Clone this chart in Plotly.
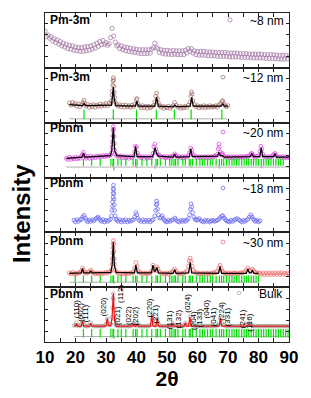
import plotly.graph_objects as go
from plotly.subplots import make_subplots

FONT = "Arial, 'Liberation Sans', sans-serif"

# ---------------- data ----------------
X_TICK_VALUES = [10, 15, 20, 25, 30, 35, 40, 45, 50, 55, 60, 65, 70, 75, 80, 85, 90]
X_TICK_LABELS = ["10", "", "20", "", "30", "", "40", "", "50", "", "60", "", "70", "", "80", "", "90"]

PANEL_NAMES = ["~8 nm", "~12 nm", "~20 nm", "~18 nm", "~30 nm", "Bulk"]
PANEL_PHASES = ["Pm-3m", "Pm-3m", "Pbnm", "Pbnm", "Pbnm", "Pbnm"]

# ~8 nm (Pm-3m), observed only
TTH_8NM = [10.0, 10.5, 11.0, 11.5, 12.0, 12.5, 13.0, 13.5, 14.0, 14.5, 15.0, 15.5, 16.0, 16.5, 17.0, 17.5,
           18.0, 18.5, 19.0, 19.5, 20.0, 20.5, 21.0, 21.5, 22.0, 22.5, 23.0, 23.5, 24.0, 24.5, 25.0, 25.5,
           26.0, 26.5, 27.0, 27.5, 28.0, 28.5, 29.0, 29.5, 30.0, 30.5, 31.0, 31.5, 32.0, 32.5, 33.0, 33.5,
           34.0, 34.5, 35.0, 35.5, 36.0, 36.5, 37.0, 37.5, 38.0, 38.5, 39.0, 39.5, 40.0, 40.5, 41.0, 41.5,
           42.0, 42.5, 43.0, 43.5, 44.0, 44.5, 45.0, 45.5, 46.0, 46.5, 47.0, 47.5, 48.0, 48.5, 49.0, 49.5,
           50.0, 50.5, 51.0, 51.5, 52.0, 52.5, 53.0, 53.5, 54.0, 54.5, 55.0, 55.5, 56.0, 56.5, 57.0, 57.5,
           58.0, 58.5, 59.0, 59.5, 60.0, 60.5, 61.0, 61.5, 62.0, 62.5, 63.0, 63.5, 64.0, 64.5, 65.0, 65.5,
           66.0, 66.5, 67.0, 67.5, 68.0, 68.5, 69.0, 69.5, 70.0, 70.5, 71.0, 71.5, 72.0, 72.5, 73.0, 73.5,
           74.0, 74.5, 75.0, 75.5, 76.0, 76.5, 77.0, 77.5, 78.0, 78.5, 79.0, 79.5, 80.0, 80.5, 81.0, 81.5,
           82.0, 82.5, 83.0, 83.5, 84.0, 84.5, 85.0, 85.5, 86.0, 86.5, 87.0, 87.5, 88.0, 88.5, 89.0, 89.5,
           90.0]
OBS_8NM = [67, 57, 60, 54, 57, 49, 53, 46, 51, 43, 48, 40, 45, 38, 43, 35,
           41, 34, 40, 32, 38, 31, 37, 30, 37, 30, 38, 31, 39, 32, 40, 34,
           42, 36, 45, 39, 48, 42, 50, 43, 46, 41, 44, 55, 72, 58, 47, 40,
           42, 35, 40, 33, 38, 31, 37, 30, 36, 29, 35, 28, 34, 27, 33, 26,
           33, 26, 33, 26, 33, 27, 34, 37, 45, 37, 35, 28, 33, 26, 32, 25,
           32, 25, 31, 24, 32, 25, 31, 24, 31, 24, 31, 24, 32, 27, 35, 30,
           35, 27, 31, 24, 30, 23, 30, 23, 30, 23, 29, 22, 29, 22, 29, 22,
           28, 21, 28, 21, 28, 21, 28, 21, 27, 20, 27, 20, 27, 20, 27, 20,
           26, 19, 26, 19, 26, 19, 25, 18, 25, 18, 25, 18, 25, 18, 25, 18,
           24, 17, 24, 17, 24, 17, 24, 17, 23, 16, 23, 16, 23, 16, 23, 16,
           21]

# ~12 nm (Pm-3m): (2theta, intensity)
OBS_12NM = [(18.0, 36), (18.5, 32), (19.0, 37), (19.5, 33), (20.0, 35), (20.5, 30), (21.0, 34), (21.5, 29),
            (22.0, 33), (22.5, 37), (22.8, 41), (23.0, 35), (23.5, 30), (24.0, 33), (24.5, 28), (25.0, 32),
            (25.5, 29), (26.0, 33), (26.5, 28), (27.0, 32), (27.5, 30), (28.0, 34), (28.5, 30), (29.0, 33),
            (29.5, 31), (30.0, 35), (30.5, 31), (31.0, 36), (31.5, 34), (31.8, 40), (32.0, 50), (32.1, 58),
            (32.2, 68), (32.3, 76), (32.4, 82), (32.5, 78), (32.6, 66), (32.7, 55), (32.8, 46), (33.0, 38),
            (33.5, 33), (34.0, 30), (34.5, 33), (35.0, 29), (35.5, 32), (36.0, 28), (36.5, 32), (37.0, 29),
            (37.5, 31), (38.0, 28), (38.5, 32), (39.0, 29), (39.5, 34), (40.0, 42), (40.2, 44), (40.5, 35),
            (41.0, 30), (41.5, 27), (42.0, 31), (42.5, 27), (43.0, 30), (43.5, 26), (44.0, 30), (44.5, 27),
            (45.0, 29), (45.5, 31), (46.0, 38), (46.3, 48), (46.6, 54), (46.9, 44), (47.2, 36), (47.5, 31),
            (48.0, 28), (48.5, 30), (49.0, 26), (49.5, 29), (50.0, 27), (50.5, 30), (51.0, 26), (51.5, 29),
            (52.0, 31), (52.5, 37), (53.0, 32), (53.5, 28), (54.0, 30), (54.5, 26), (55.0, 29), (55.5, 27),
            (56.0, 30), (56.5, 28), (57.0, 32), (57.5, 38), (57.8, 48), (58.0, 56), (58.2, 52), (58.5, 40),
            (59.0, 33), (59.5, 29), (60.0, 31), (60.5, 27), (61.0, 30), (61.5, 28), (62.0, 31), (62.5, 27),
            (63.0, 30), (63.5, 28), (64.0, 31), (64.5, 28), (65.0, 30), (65.5, 29), (66.0, 31), (66.5, 28),
            (67.0, 32), (67.5, 35), (68.0, 39), (68.3, 40), (68.6, 35), (69.0, 31), (69.5, 29), (70.0, 31)]
CALC_12NM = [(18, 33), (22.3, 31), (22.8, 35), (23.3, 31), (31.8, 32), (32.1, 45), (32.4, 65), (32.7, 44),
             (33.2, 31), (39.6, 30), (40.1, 39), (40.6, 30), (46.0, 30), (46.6, 46), (47.2, 30), (52.1, 29),
             (52.6, 32), (53.1, 29), (57.6, 30), (58.1, 46), (58.6, 30), (67.8, 30), (68.3, 35), (68.8, 30),
             (70, 30)]
DIFF_12NM = [(18, 7), (32.2, 7), (32.4, 10), (32.6, 5), (32.8, 7), (70, 7)]
PM3M_REFL = [22.8, 32.4, 40.0, 46.5, 52.4, 57.9, 68.0]

# ~20 nm (Pbnm)
OBS_20NM = [(17.0, 35), (17.5, 33), (18.0, 37), (18.5, 33), (19.0, 36), (19.5, 34), (20.0, 37), (20.5, 34),
            (21.0, 36), (21.5, 35), (22.0, 39), (22.3, 42), (22.6, 46), (22.9, 41), (23.2, 38), (23.5, 35),
            (24.0, 38), (24.5, 35), (25.0, 39), (25.5, 36), (26.0, 38), (26.5, 36), (27.0, 39), (27.5, 37),
            (28.0, 39), (28.5, 37), (29.0, 40), (29.5, 38), (30.0, 40), (30.5, 39), (31.0, 40), (31.5, 41),
            (31.8, 45), (32.0, 55), (32.1, 65), (32.2, 76), (32.3, 86), (32.4, 93), (32.5, 88), (32.6, 75),
            (32.7, 62), (32.8, 50), (33.0, 43), (33.5, 40), (34.0, 39), (34.5, 37), (35.0, 39), (35.5, 36),
            (36.0, 38), (36.5, 36), (37.0, 38), (37.5, 35), (38.0, 38), (38.5, 36), (39.0, 39), (39.4, 47),
            (39.7, 57), (40.0, 55), (40.3, 45), (40.6, 40), (41.0, 38), (41.5, 36), (42.0, 38), (42.5, 35),
            (43.0, 38), (43.5, 35), (44.0, 38), (44.5, 36), (45.0, 38), (45.4, 44), (45.7, 56), (46.0, 61),
            (46.3, 52), (46.6, 46), (47.0, 42), (47.5, 40), (48.0, 38), (48.5, 37), (49.0, 38), (49.5, 36),
            (50.0, 38), (50.5, 36), (51.0, 38), (51.5, 37), (52.0, 40), (52.5, 43), (53.0, 40), (53.5, 37),
            (54.0, 38), (54.5, 36), (55.0, 38), (55.5, 36), (56.0, 38), (56.5, 37), (57.0, 40), (57.4, 46),
            (57.8, 54), (58.1, 50), (58.4, 43), (58.8, 40), (59.5, 38), (60.0, 36), (60.5, 38), (61.0, 36),
            (61.5, 38), (62.0, 36), (62.5, 38), (63.0, 36), (63.5, 38), (64.0, 36), (64.5, 38), (65.0, 37),
            (65.5, 39), (66.0, 39), (66.5, 42), (66.8, 52), (67.0, 61), (67.2, 55), (67.5, 46), (67.8, 42),
            (68.1, 44), (68.4, 41), (68.8, 38), (69.5, 37), (70.0, 38), (70.5, 36), (71.0, 38), (71.5, 36),
            (72.0, 38), (72.5, 36), (73.0, 38), (73.5, 36), (74.0, 38), (74.5, 37), (75.0, 38), (75.5, 37),
            (76.0, 39), (76.5, 38), (77.0, 40), (77.5, 43), (77.8, 44), (78.1, 41), (78.5, 39), (79.0, 37),
            (79.5, 39), (80.0, 40), (80.5, 48), (80.8, 57), (81.1, 52), (81.4, 43), (81.8, 39), (82.5, 37),
            (83.0, 38), (83.5, 36), (84.0, 38), (84.5, 39), (85.0, 42), (85.4, 44), (85.8, 40), (86.5, 37),
            (87.0, 38), (87.5, 36), (88.0, 38), (88.5, 36), (89.0, 38), (89.5, 36), (90.0, 37)]
CALC_20NM = [(17, 35), (22.1, 37), (22.6, 44), (23.1, 37), (31.5, 40), (31.9, 50), (32.2, 75), (32.4, 91),
             (32.6, 72), (32.9, 48), (33.5, 40), (39.2, 38), (39.7, 57), (40.2, 38), (45.3, 38), (45.8, 52),
             (46.1, 54), (46.6, 44), (47.2, 39), (52.0, 37), (52.5, 43), (53.0, 37), (57.3, 38), (57.8, 52),
             (58.3, 38), (66.6, 39), (67.0, 46), (67.5, 40), (68.2, 40), (68.8, 37), (77.2, 38), (77.8, 43),
             (78.4, 38), (80.4, 38), (80.9, 54), (81.4, 38), (85.0, 38), (85.4, 44), (85.9, 37), (90, 37)]
DIFF_20NM = [(17, 19), (32.2, 19), (32.4, 25), (32.6, 13), (32.8, 19), (39.6, 19), (39.8, 22), (40.0, 17),
             (40.2, 19), (45.8, 19), (46.0, 22), (46.2, 16), (46.4, 19), (57.6, 19), (57.8, 21), (58.0, 17),
             (58.2, 19), (66.8, 19), (67.0, 23), (67.2, 16), (67.4, 19), (80.7, 19), (80.9, 22), (81.1, 17),
             (81.3, 19), (90, 19)]

# ~18 nm (Pbnm), observed only
OBS_18NM = [(19.5, 22), (20.0, 19), (20.5, 23), (21.0, 20), (21.5, 23), (22.0, 24), (22.4, 28), (22.8, 31),
            (23.2, 26), (23.6, 22), (24.0, 19), (24.5, 22), (25.0, 20), (25.5, 23), (26.0, 21), (26.5, 24),
            (27.0, 26), (27.4, 28), (27.8, 25), (28.2, 22), (28.5, 20), (29.0, 23), (29.5, 19), (30.0, 22),
            (30.5, 20), (31.0, 22), (31.5, 24), (31.8, 30), (32.0, 40), (32.1, 48), (32.2, 56), (32.3, 64),
            (32.35, 72), (32.4, 80), (32.45, 86), (32.5, 78), (32.55, 70), (32.6, 60), (32.7, 50), (32.8, 40),
            (33.0, 30), (33.3, 24), (33.6, 22), (34.0, 20), (34.5, 23), (35.0, 19), (35.5, 22), (36.0, 20),
            (36.5, 23), (37.0, 19), (37.5, 22), (38.0, 20), (38.5, 22), (39.0, 23), (39.4, 28), (39.8, 36),
            (40.1, 32), (40.4, 26), (40.8, 22), (41.5, 20), (42.0, 23), (42.5, 19), (43.0, 22), (43.5, 20),
            (44.0, 22), (44.5, 19), (45.0, 22), (45.5, 23), (46.0, 30), (46.3, 40), (46.5, 50), (46.6, 57),
            (46.7, 52), (46.9, 42), (47.2, 32), (47.6, 26), (48.0, 27), (48.4, 30), (48.8, 25), (49.2, 22),
            (49.5, 20), (50.0, 19), (50.5, 22), (51.0, 20), (51.5, 22), (52.0, 23), (52.6, 26), (53.0, 23),
            (53.5, 20), (54.0, 19), (54.5, 22), (55.0, 20), (55.5, 22), (56.0, 20), (56.5, 22), (57.0, 25),
            (57.4, 32), (57.7, 42), (57.9, 52), (58.1, 46), (58.4, 36), (58.8, 28), (59.2, 24), (59.6, 22),
            (60.0, 23), (60.5, 25), (61.0, 22), (61.5, 20), (62.0, 19), (62.5, 22), (63.0, 20), (63.5, 22),
            (64.0, 19), (64.5, 21), (65.0, 22), (65.5, 20), (66.0, 21), (66.5, 22), (67.0, 24), (67.5, 27),
            (68.0, 30), (68.3, 30), (68.7, 26), (69.2, 23), (69.5, 21), (70.0, 20), (70.5, 19), (71.0, 22),
            (71.5, 20), (72.0, 22), (72.5, 24), (73.0, 25), (73.5, 23), (74.0, 21), (74.5, 19), (75.0, 22),
            (75.5, 20), (76.0, 22), (76.5, 24), (77.0, 28), (77.5, 32), (77.9, 28), (78.3, 24), (78.7, 22),
            (79.0, 20), (79.5, 22), (80.0, 19), (80.5, 21)]

# ~30 nm (Pbnm)
OBS_30NM = [(18.0, 26), (18.5, 24), (19.0, 27), (19.5, 24), (20.0, 26), (20.5, 24), (21.0, 26), (21.5, 27),
            (22.0, 30), (22.3, 35), (22.6, 31), (23.0, 27), (23.5, 25), (24.0, 27), (24.5, 28), (25.0, 31),
            (25.4, 28), (26.0, 26), (26.5, 24), (27.0, 26), (27.5, 24), (28.0, 26), (28.5, 24), (29.0, 26),
            (29.5, 25), (30.0, 27), (30.5, 26), (31.0, 28), (31.5, 28), (31.8, 32), (32.0, 42), (32.1, 52),
            (32.2, 62), (32.3, 72), (32.4, 80), (32.45, 85), (32.5, 78), (32.6, 65), (32.7, 52), (32.8, 42),
            (33.0, 32), (33.5, 27), (34.0, 26), (34.5, 24), (35.0, 26), (35.5, 24), (36.0, 25), (36.5, 26),
            (37.0, 24), (37.5, 25), (38.0, 26), (38.5, 26), (39.0, 28), (39.4, 35), (39.8, 45), (40.2, 38),
            (40.6, 30), (41.0, 27), (41.5, 26), (42.0, 24), (42.5, 25), (43.0, 26), (43.5, 24), (44.0, 25),
            (44.5, 26), (45.0, 30), (45.4, 40), (45.8, 33), (46.2, 30), (46.6, 37), (47.0, 34), (47.5, 28),
            (48.0, 26), (48.5, 24), (49.0, 25), (49.5, 24), (50.0, 26), (50.5, 24), (51.0, 26), (51.5, 27),
            (52.0, 30), (52.5, 33), (53.0, 29), (53.5, 26), (54.0, 24), (54.5, 25), (55.0, 24), (55.5, 26),
            (56.0, 27), (56.5, 30), (57.0, 38), (57.3, 48), (57.6, 53), (57.9, 47), (58.2, 38), (58.6, 31),
            (59.0, 28), (59.5, 26), (60.0, 26), (60.5, 24), (61.0, 25), (61.5, 24), (62.0, 26), (62.5, 24),
            (63.0, 25), (63.5, 26), (64.0, 24), (64.5, 25), (65.0, 26), (65.5, 26), (66.0, 27), (66.5, 29),
            (67.0, 35), (67.4, 40), (67.8, 34), (68.2, 29), (68.6, 27), (69.0, 26), (69.5, 24), (70.0, 25),
            (70.5, 26), (71.0, 24), (71.5, 25), (72.0, 26), (72.5, 26), (73.0, 24), (73.5, 25), (74.0, 26),
            (74.5, 26), (75.0, 27), (75.5, 28), (76.0, 31), (76.5, 35), (77.0, 31), (77.5, 30), (78.0, 33),
            (78.4, 30), (79.0, 27), (79.5, 26), (80.0, 26), (80.5, 25), (81.0, 23), (81.5, 26), (82.0, 23),
            (82.5, 26), (83.0, 23), (83.5, 26), (84.0, 23), (84.5, 26), (85.0, 23), (85.5, 26), (86.0, 23),
            (86.5, 26), (87.0, 23), (87.5, 26), (88.0, 23), (88.5, 26), (89.0, 23), (89.5, 26), (90.0, 24)]
CALC_30NM = [(18, 25), (21.9, 26), (22.3, 34), (22.7, 26), (24.6, 26), (25.0, 30), (25.4, 26), (31.6, 27),
             (32.0, 40), (32.2, 60), (32.4, 82), (32.6, 55), (32.8, 38), (33.3, 27), (39.3, 26), (39.8, 40),
             (40.3, 26), (44.9, 26), (45.4, 40), (45.9, 29), (46.2, 29), (46.7, 36), (47.2, 26), (52.0, 25),
             (52.5, 32), (53.0, 25), (57.1, 26), (57.6, 45), (58.1, 26), (66.9, 25), (67.4, 38), (67.9, 25),
             (76.0, 25), (76.5, 33), (77.0, 26), (77.6, 26), (78.0, 31), (78.5, 25), (80, 25)]
DIFF_30NM = [(18, 9), (32.2, 9), (32.4, 13), (32.6, 6), (32.8, 9), (80, 9)]

# Bulk (Pbnm)
OBS_BULK = [(19.5, 30), (20.0, 31), (20.3, 35), (20.6, 31), (21.0, 29), (21.5, 30), (22.0, 33), (22.3, 39),
            (22.6, 33), (23.0, 30), (23.5, 29), (24.0, 29), (24.5, 30), (25.0, 35), (25.4, 31), (26.0, 29),
            (26.5, 29), (27.0, 29), (27.5, 29), (28.0, 29), (28.5, 29), (29.0, 29), (29.5, 30), (30.0, 33),
            (30.4, 42), (30.8, 34), (31.2, 31), (31.6, 33), (31.9, 45), (32.1, 62), (32.3, 80), (32.4, 88),
            (32.5, 78), (32.6, 60), (32.8, 42), (33.1, 33), (33.5, 30), (34.0, 29), (34.5, 29), (35.0, 29),
            (35.5, 29), (36.0, 29), (36.5, 29), (37.0, 29), (37.5, 29), (38.0, 29), (38.5, 30), (38.9, 34),
            (39.3, 31), (39.8, 30), (40.2, 34), (40.6, 30), (41.0, 29), (41.5, 29), (42.0, 29), (42.5, 29),
            (43.0, 29), (43.5, 29), (44.0, 29), (44.5, 31), (45.0, 48), (45.4, 40), (45.8, 31), (46.3, 30),
            (46.8, 42), (47.2, 33), (47.6, 30), (48.0, 29), (48.5, 29), (49.0, 29), (49.5, 29), (50.0, 29),
            (50.5, 29), (51.0, 29), (51.5, 30), (52.0, 34), (52.4, 31), (53.0, 29), (53.5, 29), (54.0, 29),
            (54.5, 29), (55.0, 29), (55.5, 30), (56.0, 35), (56.4, 31), (57.0, 31), (57.5, 46), (57.9, 36),
            (58.4, 31), (59.0, 29), (59.5, 29), (60.0, 29), (60.5, 30), (61.0, 29), (61.5, 29), (62.0, 29),
            (62.5, 29), (63.0, 29), (63.5, 29), (64.0, 29), (64.5, 30), (65.0, 29), (65.5, 29), (66.0, 29),
            (66.5, 30), (67.0, 33), (67.5, 43), (68.0, 34), (68.5, 31), (69.0, 30), (69.5, 29), (70.0, 29),
            (70.5, 29), (71.0, 29), (71.5, 29), (72.0, 29), (72.5, 29), (73.0, 29), (73.5, 29), (74.0, 29),
            (74.5, 29), (75.0, 29), (75.5, 30), (76.0, 31), (76.5, 33), (77.0, 34), (77.5, 31), (78.0, 30),
            (78.5, 29), (79.0, 29), (79.5, 29), (80.0, 29), (80.5, 29), (81.0, 29), (81.5, 29), (82.0, 29),
            (82.5, 29), (83.0, 29), (83.5, 29), (84.0, 29), (84.5, 29), (85.0, 29), (85.5, 29), (86.0, 29),
            (86.5, 29), (87.0, 29), (87.5, 29), (88.0, 29), (88.5, 29), (89.0, 29), (89.5, 29), (90.0, 29)]
CALC_BULK = [(19.5, 30), (20.0, 29), (20.3, 34), (20.6, 29), (21.9, 29), (22.3, 38), (22.7, 29), (24.6, 29),
             (25.0, 34), (25.4, 29), (30.0, 29), (30.4, 43), (30.8, 30), (31.6, 30), (32.0, 45), (32.2, 70),
             (32.4, 89), (32.6, 62), (32.8, 40), (33.2, 29), (38.5, 29), (38.9, 33), (39.3, 29), (39.8, 29),
             (40.2, 33), (40.6, 29), (44.6, 29), (45.0, 50), (45.4, 29), (46.4, 29), (46.8, 43), (47.2, 29),
             (51.6, 29), (52.0, 34), (52.4, 29), (55.6, 29), (56.0, 35), (56.4, 29), (57.1, 29), (57.5, 46),
             (57.9, 29), (67.1, 29), (67.5, 44), (67.9, 29), (76.4, 29), (77.0, 33), (77.6, 29), (90, 29)]
DIFF_BULK = [(19.5, 10), (32.2, 10), (32.4, 13), (32.6, 6), (32.8, 10), (90, 10)]

PBNM_REFL = [19.9, 22.6, 25.3, 28.1, 31.6, 32.3, 32.5, 33.9, 35.0, 36.5, 38.9, 39.7, 40.2, 41.8, 43.4,
             45.0, 46.4, 46.9, 47.8, 49.5, 50.9, 51.6, 52.3, 52.8, 53.6, 55.2, 56.0, 57.3, 57.8, 58.4,
             59.6, 60.8, 61.6, 62.4, 63.3, 64.2, 65.0, 66.1, 67.2, 67.9, 68.6, 69.5, 70.4, 71.3, 72.0,
             72.8, 73.6, 74.5, 75.3, 76.1, 76.8, 77.6, 78.4, 79.2, 80.0, 80.9, 81.7, 82.5, 83.3, 84.1,
             84.9, 85.7, 86.5, 87.3, 88.1, 88.9, 89.7]

HKL_LABELS = ["(110)", "(002)", "(111)", "(020)", "(112)", "(021)", "(022)", "(202)", "(220)", "(221)",
              "(131)", "(132)", "(024)", "(204)", "(133)", "(040)", "(041)", "(224)", "(331)", "(241)", "(116)"]
HKL_TTH = [20.2, 21.8, 23.4, 29.0, 34.8, 33.6, 37.2, 39.8, 44.4, 46.4,
           50.7, 53.6, 56.6, 58.5, 60.5, 63.1, 65.1, 68.0, 69.7, 75.0, 77.2]
HKL_LEVEL = [60, 55, 52, 65, 87, 49, 49, 48, 63, 50, 40, 43, 70, 40, 43, 61, 45, 57, 45, 42, 35]

# ---------------- styling ----------------
OBS_COLORS = ["#a77ca9", "#a8756c", "#e04ce0", "#6f6ff0", "#f07474", "#a6a6a6"]
MARKER_SIZES = [4.2, 3.8, 3.8, 3.8, 3.8, 3.6]
CALC_COLORS = [None, "#000000", "#000000", None, "#000000", "#ee1111"]
GREEN = "#00dd00"
DIFF_COLOR = "#9a9a9a"
AXIS_COLOR = "#222222"

fig = make_subplots(rows=6, cols=1, shared_xaxes=True, vertical_spacing=0)


def unzip(pairs):
    return [p[0] for p in pairs], [p[1] for p in pairs]


obs_sets = [(TTH_8NM, OBS_8NM), unzip(OBS_12NM), unzip(OBS_20NM), unzip(OBS_18NM), unzip(OBS_30NM), unzip(OBS_BULK)]
calc_sets = [None, CALC_12NM, CALC_20NM, None, CALC_30NM, CALC_BULK]
diff_sets = [None, DIFF_12NM, DIFF_20NM, None, DIFF_30NM, DIFF_BULK]
refl_sets = [None, (PM3M_REFL, 15, 7), ([r for r in PBNM_REFL if 22 <= r <= 88.5], 28, 5), None,
             ([r for r in PBNM_REFL if 19.5 <= r <= 80.5], 15, 5), ([r for r in PBNM_REFL if 20.5 <= r <= 90], 16, 6)]
legend_names = ["legend", "legend2", "legend3", "legend4", "legend5", "legend6"]

for i in range(6):
    row = i + 1
    xs, ys = obs_sets[i]
    fig.add_trace(go.Scatter(x=xs, y=ys, mode="markers", name=PANEL_NAMES[i],
                             marker=dict(symbol="circle-open", size=MARKER_SIZES[i], color=OBS_COLORS[i],
                                         line=dict(width=0.8, color=OBS_COLORS[i])),
                             legend=legend_names[i], showlegend=True), row=row, col=1)
    if calc_sets[i] is not None:
        cx, cy = unzip(calc_sets[i])
        fig.add_trace(go.Scatter(x=cx, y=cy, mode="lines", line=dict(color=CALC_COLORS[i], width=1.2),
                                 showlegend=False), row=row, col=1)
    if diff_sets[i] is not None:
        dx, dy = unzip(diff_sets[i])
        fig.add_trace(go.Scatter(x=dx, y=dy, mode="lines", line=dict(color=DIFF_COLOR, width=0.8),
                                 showlegend=False), row=row, col=1)
    if refl_sets[i] is not None:
        rx, level, sz = refl_sets[i]
        fig.add_trace(go.Scatter(x=rx, y=[level] * len(rx), mode="markers",
                                 marker=dict(symbol="line-ns", size=sz, line=dict(width=1.2, color=GREEN)),
                                 showlegend=False), row=row, col=1)

for r in range(1, 7):
    fig.update_xaxes(row=r, col=1, range=[10, 90], tickvals=X_TICK_VALUES, ticktext=X_TICK_LABELS,
                     ticks="inside", ticklen=4, tickwidth=1, tickcolor=AXIS_COLOR,
                     showline=True, linecolor=AXIS_COLOR, linewidth=1, mirror="ticks",
                     showgrid=False, zeroline=False, showticklabels=(r == 6),
                     tickfont=dict(size=17, family=FONT, color="black", weight="bold"))
    fig.update_yaxes(row=r, col=1, range=[0, 100], tickvals=[20, 40, 60, 80],
                     ticks="inside", ticklen=3, tickwidth=1, tickcolor=AXIS_COLOR,
                     showline=True, linecolor=AXIS_COLOR, linewidth=1, mirror="ticks",
                     showgrid=False, zeroline=False, showticklabels=False)

fig.update_xaxes(row=6, col=1, title=dict(text="2θ", font=dict(size=21, family=FONT, color="black", weight="bold"),
                                          standoff=0))

# panel labels, size legends
label_y = [0.979, 0.805, 0.650, 0.483, 0.307, 0.146]
legend_y = [0.979, 0.805, 0.638, 0.468, 0.304, 0.149]
annotations = []
for i in range(6):
    annotations.append(dict(text=PANEL_PHASES[i], xref="paper", yref="paper", x=0.012, y=label_y[i],
                            xanchor="left", yanchor="middle", showarrow=False,
                            font=dict(size=12, family=FONT, color="black", weight="bold")))
for lab, tth, lev in zip(HKL_LABELS, HKL_TTH, HKL_LEVEL):
    annotations.append(dict(text=lab, xref="x6", yref="y6", x=tth, y=lev, textangle=-90,
                            xanchor="center", yanchor="middle", showarrow=False,
                            font=dict(size=8, family=FONT, color="black")))
annotations.append(dict(text="Intensity", xref="paper", yref="paper", x=-0.098, y=0.389, textangle=-90,
                        xanchor="center", yanchor="middle", showarrow=False,
                        font=dict(size=24, family=FONT, color="black", weight="bold")))

layout_legends = {}
for i, ln in enumerate(legend_names):
    layout_legends[ln] = dict(x=1.0, xanchor="right", y=legend_y[i], yanchor="middle",
                              bgcolor="rgba(0,0,0,0)", borderwidth=0, itemwidth=30,
                              font=dict(size=12, family=FONT, color="black"))

fig.update_layout(width=311, height=398, margin=dict(l=45, r=22, t=13, b=56, autoexpand=False),
                  paper_bgcolor="white", plot_bgcolor="white", annotations=annotations,
                  font=dict(family=FONT, color="black"), **layout_legends)

fig.write_html("out.html", config={"displayModeBar": False},
               post_script="document.body.style.margin='0';document.body.style.padding='0';"
                           "document.documentElement.style.overflow='hidden';")
